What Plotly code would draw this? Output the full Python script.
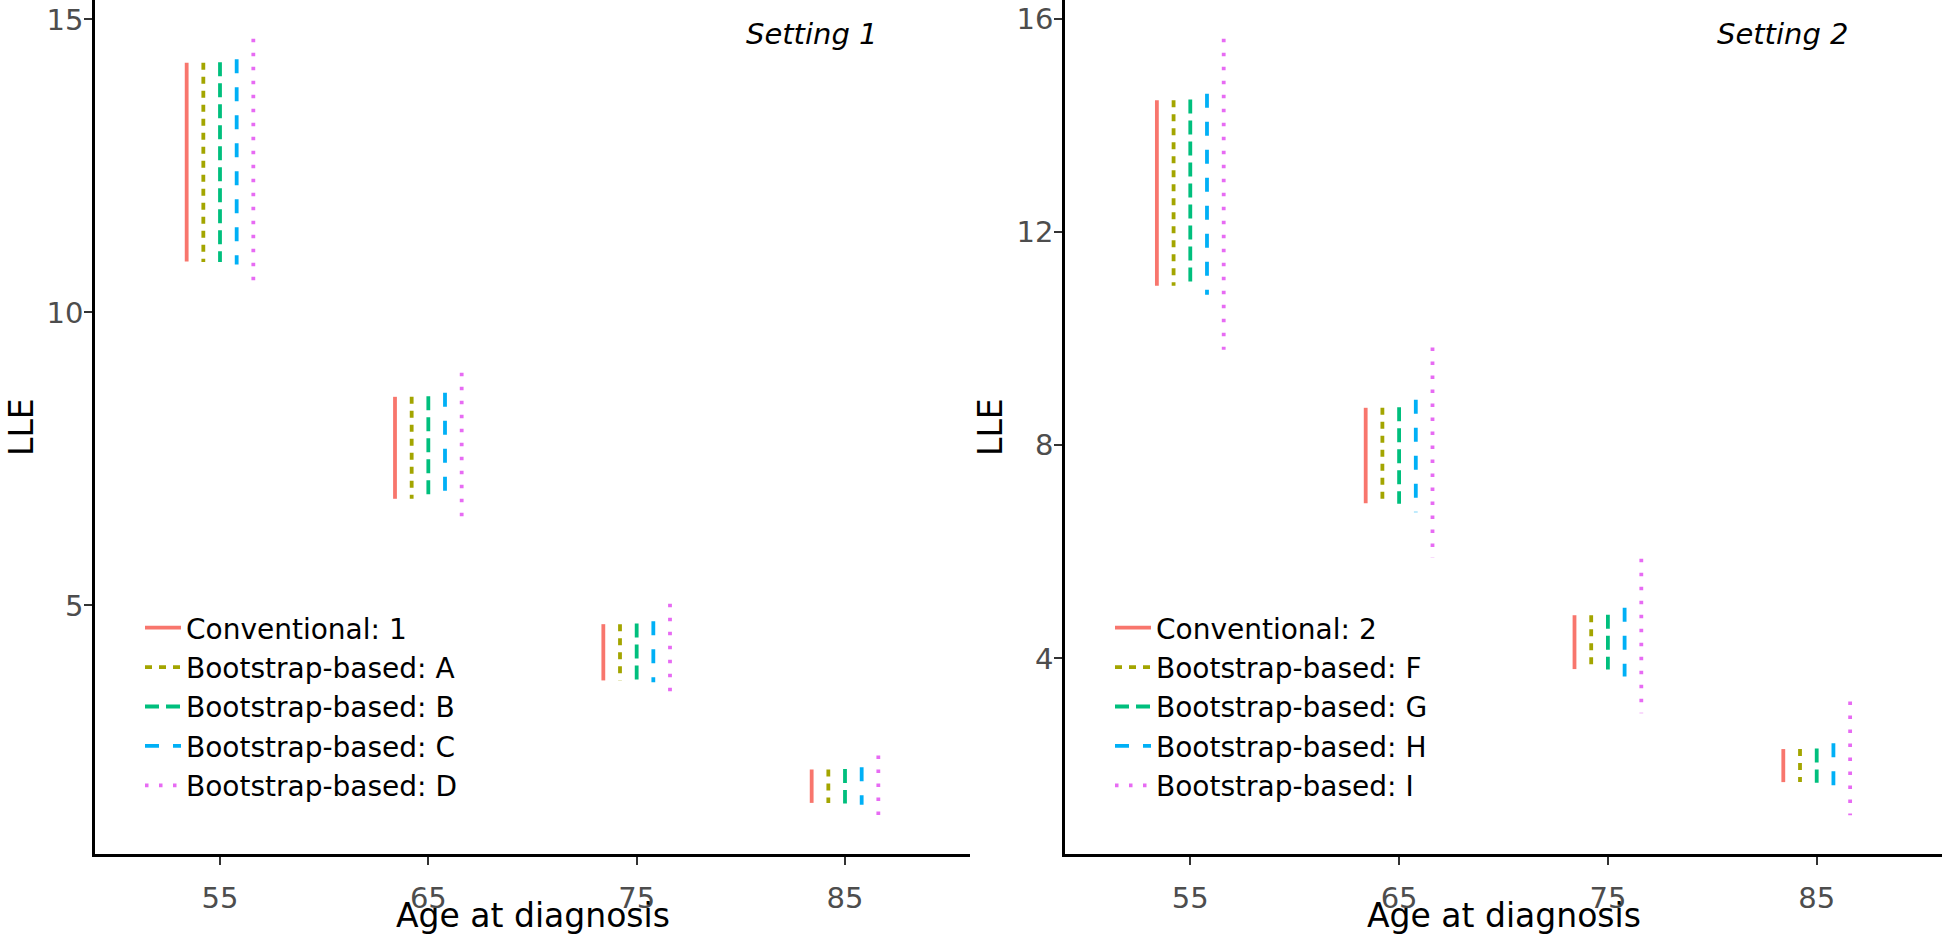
import plotly.graph_objects as go

# ---------------- data ----------------
ages = [55, 65, 75, 85]

s1_names = ["Conventional: 1", "Bootstrap-based: A", "Bootstrap-based: B",
            "Bootstrap-based: C", "Bootstrap-based: D"]
s1_upper = [
    [14.26, 8.56, 4.68, 2.20],
    [14.26, 8.56, 4.68, 2.20],
    [14.27, 8.57, 4.69, 2.21],
    [14.32, 8.63, 4.73, 2.24],
    [14.67, 8.97, 5.03, 2.44],
]
s1_lower = [
    [10.87, 6.82, 3.72, 1.63],
    [10.86, 6.82, 3.72, 1.63],
    [10.86, 6.81, 3.71, 1.62],
    [10.82, 6.76, 3.69, 1.60],
    [10.45, 6.41, 3.39, 1.42],
]

s2_names = ["Conventional: 2", "Bootstrap-based: F", "Bootstrap-based: G",
            "Bootstrap-based: H", "Bootstrap-based: I"]
s2_upper = [
    [14.47, 8.70, 4.81, 2.30],
    [14.47, 8.70, 4.81, 2.30],
    [14.48, 8.71, 4.82, 2.31],
    [14.59, 8.85, 4.95, 2.41],
    [15.62, 9.83, 5.87, 3.19],
]
s2_lower = [
    [10.99, 6.91, 3.80, 1.68],
    [10.99, 6.91, 3.80, 1.68],
    [10.98, 6.90, 3.79, 1.67],
    [10.82, 6.74, 3.66, 1.59],
    [9.79, 5.89, 2.97, 1.06],
]

x_ticks = [55, 65, 75, 85]
y1_ticks = [5, 10, 15]
y2_ticks = [4, 8, 12, 16]

# ---------------- style ----------------
colors = ["#F8766D", "#A3A500", "#00BF7D", "#00B0F6", "#E76BF3"]
dashes = ["solid", "7px,7px", "14px,7px", "14px,14px", "3.5px,10.5px"]
LW = 3.8
DODGE_STEP = 0.8  # in axis units (0.08 of category spacing of 10)
FONT = "DejaVu Sans, sans-serif"

W, H = 1943, 934
ML, MR, MT, MB = 95, 1, 0, 80
PW = W - ML - MR
PH = H - MT - MB
x1_dom = [0, (970 - ML) / PW]
x2_dom = [(1065 - ML) / PW, 1]

fig = go.Figure()


def add_setting(names, uppers, lowers, xa, ya, legend):
    n = len(names)
    for i in range(n):
        off = (i - (n - 1) / 2) * DODGE_STEP
        xs, ys = [], []
        for a, u, l in zip(ages, uppers[i], lowers[i]):
            xs += [a + off, a + off, None]
            ys += [u, l, None]
        fig.add_trace(go.Scatter(
            x=xs, y=ys, mode="lines", name=names[i],
            line=dict(color=colors[i], width=LW, dash=dashes[i]),
            xaxis=xa, yaxis=ya, legend=legend, hoverinfo="skip",
        ))


add_setting(s1_names, s1_upper, s1_lower, "x", "y", "legend")
add_setting(s2_names, s2_upper, s2_lower, "x2", "y2", "legend2")


def yrange(uppers, lowers):
    lo = min(min(r) for r in lowers)
    hi = max(max(r) for r in uppers)
    pad = 0.05 * (hi - lo)
    return [lo - pad, hi + pad]


axis_common = dict(
    showgrid=False, zeroline=False, showline=True, linecolor="black",
    linewidth=2.5, ticks="outside", ticklen=8, tickwidth=2, tickcolor="#333333",
    tickfont=dict(family=FONT, size=29, color="#4D4D4D"),
)
xaxis_common = dict(range=[49, 91], tickvals=x_ticks, ticklabelstandoff=8, **axis_common)
yaxis_common = dict(domain=[0, 1], ticklabelstandoff=-5, **axis_common)

leg_common = dict(xanchor="left", yanchor="top", bgcolor="rgba(0,0,0,0)",
                  font=dict(family=FONT, size=28, color="black"),
                  itemwidth=36, tracegroupgap=0, borderwidth=0)
leg_top = (PH - 603) / PH

fig.update_layout(
    width=W, height=H,
    margin=dict(l=ML, r=MR, t=MT, b=MB),
    paper_bgcolor="white", plot_bgcolor="white",
    font=dict(family=FONT),
    xaxis=dict(domain=x1_dom, anchor="y", **xaxis_common),
    yaxis=dict(range=yrange(s1_upper, s1_lower), tickvals=y1_ticks, anchor="x", **yaxis_common),
    xaxis2=dict(domain=x2_dom, anchor="y2", **xaxis_common),
    yaxis2=dict(range=yrange(s2_upper, s2_lower), tickvals=y2_ticks, anchor="x2", **yaxis_common),
    legend=dict(x=(140 - ML) / PW, y=leg_top, **leg_common),
    legend2=dict(x=(140 + 970 - ML) / PW, y=leg_top, **leg_common),
    showlegend=True,
)

ann_font = dict(family=FONT, size=33, color="black")
set_font = dict(family=FONT, size=29, color="black")
annotations = [
    dict(text="LLE", textangle=-90, xref="paper", yref="paper",
         x=(21 - ML) / PW, y=0.5, showarrow=False, font=ann_font,
         xanchor="center", yanchor="middle"),
    dict(text="LLE", textangle=-90, xref="paper", yref="paper",
         x=(990 - ML) / PW, y=0.5, showarrow=False, font=ann_font,
         xanchor="center", yanchor="middle"),
    dict(text="Age at diagnosis", xref="x domain", yref="paper", x=0.5,
         y=-(915 - PH) / PH, showarrow=False, font=ann_font,
         xanchor="center", yanchor="middle"),
    dict(text="Age at diagnosis", xref="x2 domain", yref="paper", x=0.5,
         y=-(915 - PH) / PH, showarrow=False, font=ann_font,
         xanchor="center", yanchor="middle"),
    dict(text="<i>Setting 1</i>", xref="x", yref="y domain", x=83.4, y=1 - 34 / PH,
         showarrow=False, font=set_font, xanchor="center", yanchor="middle"),
    dict(text="<i>Setting 2</i>", xref="x2", yref="y2 domain", x=83.4, y=1 - 34 / PH,
         showarrow=False, font=set_font, xanchor="center", yanchor="middle"),
]
fig.update_layout(annotations=annotations)

fig.write_html("out.html", config={"displayModeBar": False},
               post_script="document.body.style.margin='0';")
